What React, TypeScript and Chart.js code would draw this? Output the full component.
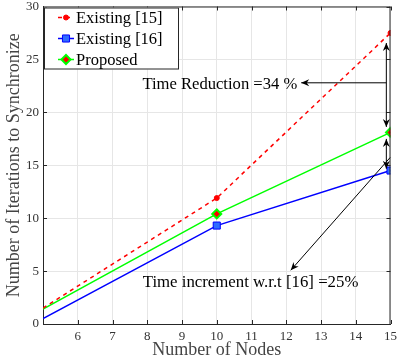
import React, { useEffect, useRef } from "react";
import { Chart, registerables } from "chart.js";

Chart.register(...registerables);

// ---------- data ----------
const nodes = [5, 10, 15];
const existing15 = [1.5, 11.9, 27.5];
const existing16 = [0.5, 9.3, 14.5];
const proposed = [1.4, 10.4, 18.1];
const seriesLabels = ["Existing [15]", "Existing [16]", "Proposed"];
const xTicks = [6, 7, 8, 9, 10, 11, 12, 13, 14, 15];
const yTicks = [0, 5, 10, 15, 20, 25, 30];
const xTitle = "Number of Nodes";
const yTitle = "Number of Iterations to Synchronize";

// annotations (data units)
const reductionText = "Time Reduction =34 %";
const reductionTextAt = [7.86, 22.6];
const incrementText = "Time increment w.r.t [16] =25%";
const incrementTextAt = [7.87, 3.88];
// [x1, y1, x2, y2, headAtStart, headAtEnd]
const arrows: [number, number, number, number, boolean, boolean][] = [
  [14.88, 26.55, 14.88, 18.62, true, true],
  [14.88, 22.79, 12.43, 22.79, false, true],
  [14.88, 17.49, 14.88, 14.67, true, true],
  [14.99, 15.73, 12.13, 5.08, false, true],
];

const SERIF = "'Liberation Serif', 'Times New Roman', serif";

function drawMarker(ctx: CanvasRenderingContext2D, style: string, x: number, y: number, r: number, fill: string, stroke: string, lw: number) {
  ctx.save();
  ctx.beginPath();
  if (style === "circle") {
    ctx.arc(x, y, r, 0, Math.PI * 2);
  } else if (style === "rect") {
    const s = r * Math.SQRT1_2;
    ctx.rect(x - s, y - s, 2 * s, 2 * s);
  } else {
    ctx.moveTo(x - r, y);
    ctx.lineTo(x, y - r);
    ctx.lineTo(x + r, y);
    ctx.lineTo(x, y + r);
    ctx.closePath();
  }
  ctx.fillStyle = fill;
  ctx.fill();
  ctx.lineWidth = lw;
  ctx.strokeStyle = stroke;
  ctx.stroke();
  ctx.restore();
}

function arrowHead(ctx: CanvasRenderingContext2D, x: number, y: number, fromX: number, fromY: number) {
  const ang = Math.atan2(y - fromY, x - fromX);
  const len = 8;
  const w = 3.5;
  ctx.save();
  ctx.translate(x, y);
  ctx.rotate(ang);
  ctx.beginPath();
  ctx.moveTo(0, 0);
  ctx.lineTo(-len, -w);
  ctx.lineTo(-len + 2.5, 0);
  ctx.lineTo(-len, w);
  ctx.closePath();
  ctx.fillStyle = "#000";
  ctx.fill();
  ctx.restore();
}

const framePlugin = {
  id: "frame",
  afterDraw(chart: any) {
    const { ctx, chartArea: a, scales } = chart;
    const xs = scales.x;
    const ys = scales.y;
    ctx.save();
    ctx.strokeStyle = "#262626";
    ctx.lineWidth = 1;
    ctx.beginPath();
    ctx.moveTo(a.left, a.top + 0.5);
    ctx.lineTo(a.right, a.top + 0.5);
    ctx.moveTo(a.right - 0.5, a.top);
    ctx.lineTo(a.right - 0.5, a.bottom);
    const tl = 4;
    xTicks.forEach((v) => {
      const px = Math.round(xs.getPixelForValue(v)) + 0.5;
      ctx.moveTo(px, a.bottom);
      ctx.lineTo(px, a.bottom - tl);
      ctx.moveTo(px, a.top);
      ctx.lineTo(px, a.top + tl);
    });
    yTicks.forEach((v) => {
      const py = Math.round(ys.getPixelForValue(v)) + 0.5;
      ctx.moveTo(a.left, py);
      ctx.lineTo(a.left + tl, py);
      ctx.moveTo(a.right, py);
      ctx.lineTo(a.right - tl, py);
    });
    ctx.stroke();

    // annotations
    ctx.strokeStyle = "#000";
    ctx.lineWidth = 1;
    arrows.forEach(([x1, y1, x2, y2, hs, he]) => {
      const p1x = xs.getPixelForValue(x1);
      const p1y = ys.getPixelForValue(y1);
      const p2x = xs.getPixelForValue(x2);
      const p2y = ys.getPixelForValue(y2);
      ctx.beginPath();
      ctx.moveTo(p1x, p1y);
      ctx.lineTo(p2x, p2y);
      ctx.stroke();
      if (he) arrowHead(ctx, p2x, p2y, p1x, p1y);
      if (hs) arrowHead(ctx, p1x, p1y, p2x, p2y);
    });
    ctx.fillStyle = "#000";
    ctx.textAlign = "left";
    ctx.textBaseline = "middle";
    ctx.font = `16.6px ${SERIF}`;
    ctx.fillText(reductionText, xs.getPixelForValue(reductionTextAt[0]), ys.getPixelForValue(reductionTextAt[1]));
    ctx.font = `16.8px ${SERIF}`;
    ctx.fillText(incrementText, xs.getPixelForValue(incrementTextAt[0]), ys.getPixelForValue(incrementTextAt[1]));

    // legend
    const lx = a.left + 1;
    const ly = a.top + 1;
    const lw = 135;
    const lh = 62;
    ctx.fillStyle = "#fff";
    ctx.fillRect(lx, ly, lw, lh);
    ctx.strokeStyle = "#262626";
    ctx.strokeRect(lx + 0.5, ly + 0.5, lw - 1, lh - 1);
    chart.data.datasets.forEach((ds: any, i: number) => {
      const cy = ly + 10 + i * 21;
      const x0 = lx + 14;
      const x1 = lx + 30;
      ctx.save();
      ctx.strokeStyle = ds.borderColor;
      ctx.lineWidth = 1.5;
      ctx.setLineDash(ds.borderDash || []);
      ctx.beginPath();
      ctx.moveTo(x0, cy);
      ctx.lineTo(x1, cy);
      ctx.stroke();
      ctx.restore();
      drawMarker(ctx, ds.pointStyle, (x0 + x1) / 2, cy, ds.legendRadius, ds.pointBackgroundColor, ds.pointBorderColor, ds.pointBorderWidth);
      ctx.fillStyle = "#000";
      ctx.font = `16.5px ${SERIF}`;
      ctx.textBaseline = "middle";
      ctx.fillText(ds.label, lx + 32, cy + 1);
    });
    ctx.restore();
  },
};

export default function App() {
  const ref = useRef<HTMLCanvasElement>(null);
  useEffect(() => {
    if (!ref.current) return;
    const chart = new Chart(ref.current, {
      type: "line",
      data: {
        datasets: [
          {
            label: seriesLabels[0],
            data: nodes.map((x, i) => ({ x, y: existing15[i] })),
            borderColor: "#ff0000",
            borderWidth: 1.5,
            borderDash: [4, 4],
            pointStyle: "circle",
            pointRadius: [0, 2.5, 2.5],
            pointBackgroundColor: "#ff0000",
            pointBorderColor: "#ff0000",
            pointBorderWidth: 1,
            legendRadius: 2.5,
          } as any,
          {
            label: seriesLabels[1],
            data: nodes.map((x, i) => ({ x, y: existing16[i] })),
            borderColor: "#0000ff",
            borderWidth: 1.5,
            pointStyle: "rect",
            pointRadius: [0, 5, 5],
            pointBackgroundColor: "#2f6bff",
            pointBorderColor: "#0000ff",
            pointBorderWidth: 1,
            legendRadius: 5,
          } as any,
          {
            label: seriesLabels[2],
            data: nodes.map((x, i) => ({ x, y: proposed[i] })),
            borderColor: "#00ff00",
            borderWidth: 1.5,
            pointStyle: "rectRot",
            pointRadius: [0, 4.5, 4.5],
            pointBackgroundColor: "#ff0000",
            pointBorderColor: "#00ff00",
            pointBorderWidth: 2,
            legendRadius: 4.5,
          } as any,
        ],
      },
      options: {
        animation: false,
        responsive: false,
        devicePixelRatio: 1,
        layout: { padding: { top: 5, right: 5, left: 0, bottom: 0 } },
        plugins: { legend: { display: false }, tooltip: { enabled: false } },
        elements: { line: { tension: 0 } },
        scales: {
          x: {
            type: "linear",
            min: 5,
            max: 15,
            afterBuildTicks: (s: any) => {
              s.ticks = xTicks.map((v) => ({ value: v }));
            },
            ticks: {
              color: "#333",
              font: { family: SERIF, size: 13 },
              padding: 5,
              maxRotation: 0,
              autoSkip: false,
            },
            grid: { color: "#e6e6e6", drawTicks: false, lineWidth: 1 },
            border: { color: "#262626", width: 1 },
            title: {
              display: true,
              text: xTitle,
              color: "#444",
              font: { family: SERIF, size: 18 },
              padding: { top: 0, bottom: 3 },
            },
            afterFit: (s: any) => {
              s.height = 40;
              s.paddingLeft = 0;
              s.paddingRight = 0;
            },
          },
          y: {
            type: "linear",
            min: 0,
            max: 30,
            afterBuildTicks: (s: any) => {
              s.ticks = yTicks.map((v) => ({ value: v }));
            },
            ticks: {
              color: "#333",
              font: { family: SERIF, size: 13 },
              padding: 4,
            },
            grid: { color: "#e6e6e6", drawTicks: false, lineWidth: 1 },
            border: { color: "#262626", width: 1 },
            title: {
              display: true,
              text: yTitle,
              color: "#444",
              font: { family: SERIF, size: 18 },
              padding: { top: 3, bottom: 0 },
            },
            afterFit: (s: any) => {
              s.width = 43;
              s.paddingTop = 0;
              s.paddingBottom = 0;
            },
          },
        },
      } as any,
      plugins: [framePlugin],
    });
    return () => chart.destroy();
  }, []);
  return (
    <div style={{ position: "fixed", left: 0, top: 0, width: 397, height: 364, background: "#fff" }}>
      <canvas ref={ref} width={397} height={364} style={{ width: 397, height: 364, display: "block" }} />
    </div>
  );
}
